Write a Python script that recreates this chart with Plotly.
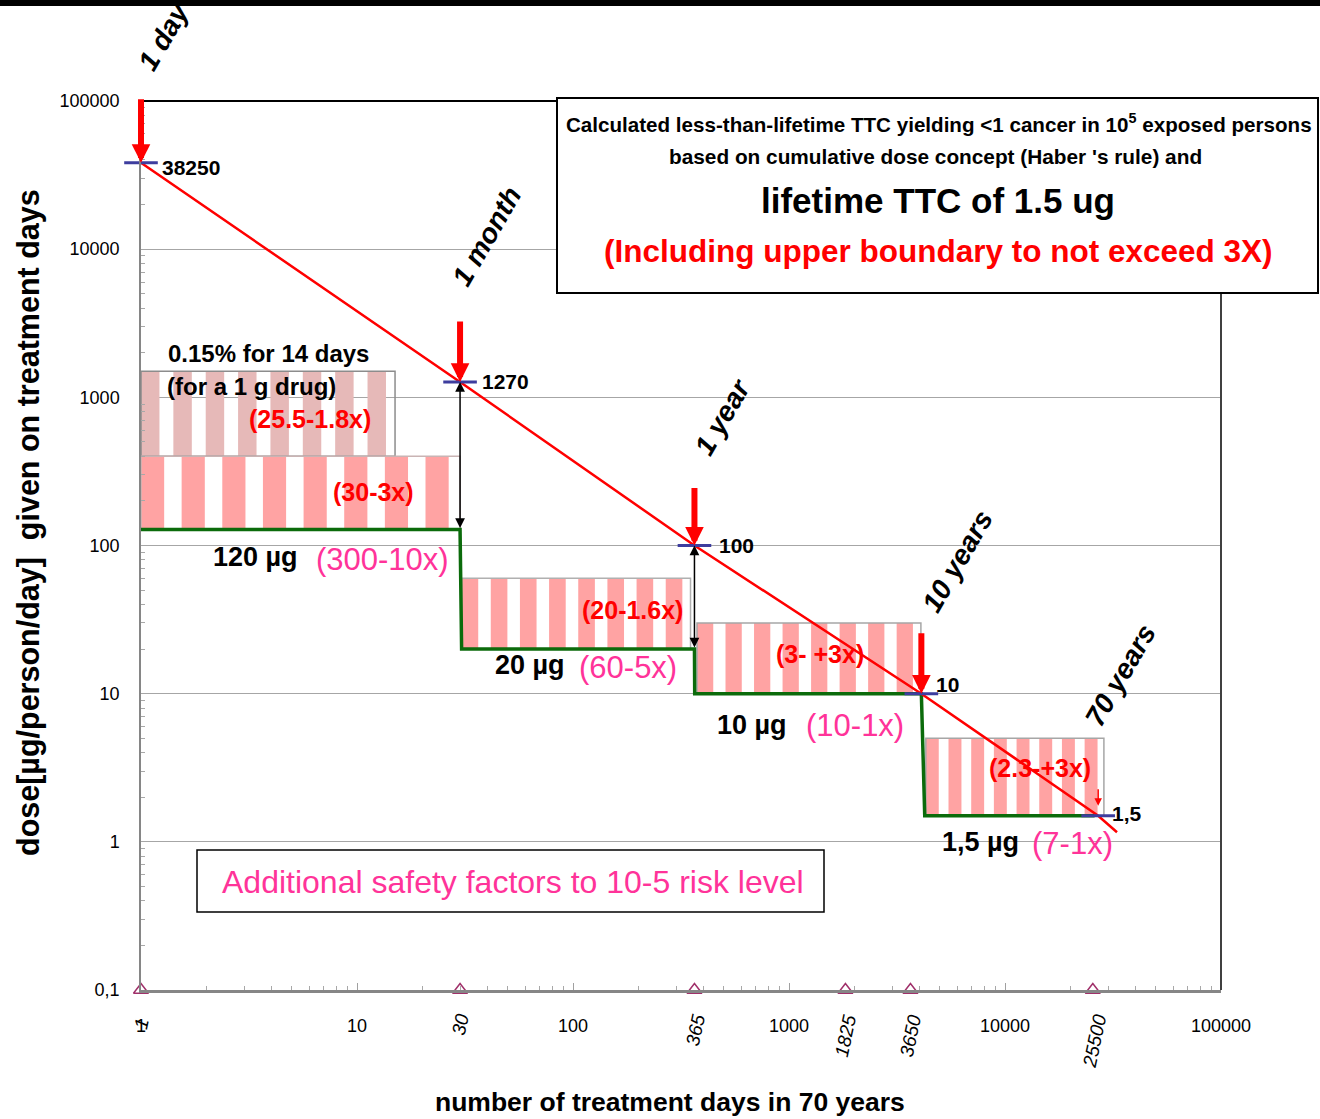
import math
import plotly.graph_objects as go

# ---------------- data ----------------
red_days = [1, 30, 365, 4100, 27000, 33000]
red_dose = [38250, 1270, 100, 10, 1.5, 1.16]

point_days = [1, 30, 365, 4100, 27000]
point_dose = [38250, 1270, 100, 10, 1.5]
point_labels = ["38250", "1270", "100", "10", "1,5"]
milestone_labels = ["1 day", "1 month", "1 year", "10 years", "70 years"]

step_days = [1, 30, 30.5, 365, 366, 4100, 4250, 26000]
step_dose = [128, 128, 20, 20, 10, 10, 1.5, 1.5]

box_day_from = [1, 1, 30.5, 375, 4300]
box_day_to = [15, 30, 350, 4080, 28700]
box_dose_low = [400, 128, 20, 10, 1.5]
box_dose_high = [1500, 400, 60, 30, 5]
box_factor_labels = ["(25.5-1.8x)", "(30-3x)", "(20-1.6x)", "(3- +3x)", "(2.3-+3x)"]

level_labels = ["120 µg", "20 µg", "10 µg", "1,5 µg"]
level_factor_labels = ["(300-10x)", "(60-5x)", "(10-1x)", "(7-1x)"]

axis_mark_days = [1, 30, 365, 1825, 3650, 25500]
axis_mark_labels = ["1", "30", "365", "1825", "3650", "25500"]

x_tickvals = [1, 10, 100, 1000, 10000, 100000]
x_ticktext = ["1", "10", "100", "1000", "10000", "100000"]
y_tickvals = [0.1, 1, 10, 100, 1000, 10000, 100000]
y_ticktext = ["0,1", "1", "10", "100", "1000", "10000", "100000"]

pair_days = [30, 365]
pair_top = [1270, 100]
pair_bottom = [128, 20]

# ---------------- layout helpers ----------------
W, H = 1320, 1119
L, R, T, B = 141, 99, 101, 129
PW, PH = W - L - R, H - T - B
SANS = "Liberation Sans, Arial, sans-serif"
RED = "#ff0000"
MAG = "#ff3399"


def fx(p):
    return (p - L) / PW


def fy(p):
    return (H - B - p) / PH


def ann(text, xp, yp, size, color="black", bold=True, italic=False, angle=0,
        xanchor="center"):
    return dict(text=text, xref="paper", yref="paper", x=fx(xp), y=fy(yp),
                xanchor=xanchor, yanchor="middle", showarrow=False,
                textangle=angle,
                font=dict(family=SANS, size=size, color=color,
                          weight="bold" if bold else "normal",
                          style="italic" if italic else "normal"))


fig = go.Figure()

# striped boxes
stripe_colors = ["#e6b9b8", "#ffa3a3", "#ffa3a3", "#ffa3a3", "#ffa3a3"]
outline_colors = ["#8c8c8c", "#c9b4b4", "#b0b0b0", "#a6a6a6", "#a6a6a6"]
for i in range(len(box_day_from)):
    lx0, lx1 = math.log10(box_day_from[i]), math.log10(box_day_to[i])
    period = (lx1 - lx0) / 7.85
    xs, ys = [], []
    for k in range(8):
        s0 = lx0 + k * period
        s1 = min(s0 + 0.57 * period, lx1)
        a, b = 10 ** s0, 10 ** s1
        lo, hi = box_dose_low[i], box_dose_high[i]
        xs += [a, b, b, a, a, None]
        ys += [lo, lo, hi, hi, lo, None]
    fig.add_trace(go.Scatter(x=xs, y=ys, mode="lines", fill="toself",
                             fillcolor=stripe_colors[i], line=dict(width=0),
                             hoverinfo="skip"))
    a, b = box_day_from[i], box_day_to[i]
    lo, hi = box_dose_low[i], box_dose_high[i]
    fig.add_trace(go.Scatter(x=[a, b, b, a, a], y=[lo, lo, hi, hi, lo],
                             mode="lines",
                             line=dict(color=outline_colors[i], width=1.5),
                             hoverinfo="skip"))

# green step line
fig.add_trace(go.Scatter(x=step_days, y=step_dose, mode="lines",
                         line=dict(color="#0b6b0b", width=3.5)))
# red line
fig.add_trace(go.Scatter(x=red_days, y=red_dose, mode="lines",
                         line=dict(color=RED, width=2.5)))
# blue dash markers
fig.add_trace(go.Scatter(x=point_days, y=point_dose, mode="markers",
                         cliponaxis=False,
                         marker=dict(symbol="line-ew", size=24,
                                     line=dict(width=3, color="#3d3d9e"))))
# triangles on the x-axis
fig.add_trace(go.Scatter(x=axis_mark_days, y=[0.1] * len(axis_mark_days),
                         mode="markers", cliponaxis=False,
                         marker=dict(symbol="triangle-up-open", size=13,
                                     color="#a0306a",
                                     line=dict(width=1.5, color="#a0306a"))))

annotations = []

# red arrows (pixel lengths are styling)
red_arrow_len = [65, 62, 59, 62]
for i in range(4):
    annotations.append(dict(x=math.log10(point_days[i]), y=math.log10(point_dose[i]),
                            xref="x", yref="y", ax=0, ay=-red_arrow_len[i],
                            text="", showarrow=True, arrowhead=2, arrowsize=0.62,
                            arrowwidth=6, arrowcolor=RED, standoff=0))
annotations.append(dict(x=math.log10(point_days[4]), y=math.log10(point_dose[4]),
                        xref="x", yref="y", ax=0, ay=-28, text="", showarrow=True,
                        arrowhead=2, arrowsize=1.0, arrowwidth=1.5,
                        arrowcolor=RED, standoff=10))

# black double arrows
for i in range(2):
    annotations.append(dict(x=math.log10(pair_days[i]), y=math.log10(pair_top[i]),
                            xref="x", yref="y", axref="x", ayref="y",
                            ax=math.log10(pair_days[i]), ay=math.log10(pair_bottom[i]),
                            text="", showarrow=True, arrowside="end+start",
                            arrowhead=2, startarrowhead=2, arrowsize=1.3,
                            startarrowsize=1.3, arrowwidth=1.5,
                            arrowcolor="black", standoff=0, startstandoff=0))

# milestone labels
milestone_pos = [(164, 37), (487, 237), (722, 417), (957, 561), (1120, 675)]
for t, (xp, yp) in zip(milestone_labels, milestone_pos):
    annotations.append(ann(t, xp, yp, 28, italic=True, angle=-60))

# point value labels
point_label_pos = [(160, 167), (480, 381), (717, 545), (934, 684), (1110, 813)]
for t, (xp, yp) in zip(point_labels, point_label_pos):
    annotations.append(ann(t, xp, yp, 21, xanchor="left"))

# box texts
annotations.append(ann("0.15% for 14 days", 166, 353, 24, xanchor="left"))
annotations.append(ann("(for a 1 g drug)", 165, 386, 24, xanchor="left"))
box_label_pos = [(310, 419), (373, 492), (632, 610), (820, 654), (1040, 768)]
for t, (xp, yp) in zip(box_factor_labels, box_label_pos):
    annotations.append(ann(t, xp, yp, 25, color=RED))

level_pos = [(255, 557), (530, 665), (752, 725), (980, 842)]
for t, (xp, yp) in zip(level_labels, level_pos):
    annotations.append(ann(t, xp, yp, 27))
level_factor_pos = [(382, 559), (628, 667), (855, 725), (1072, 843)]
for t, (xp, yp) in zip(level_factor_labels, level_factor_pos):
    annotations.append(ann(t, xp, yp, 31, color=MAG, bold=False))

# title box text
annotations.append(ann("Calculated less-than-lifetime TTC yielding &lt;1 cancer in 10<sup>5</sup> exposed persons",
                       939, 123, 20.6))
annotations.append(ann("based on cumulative dose concept (Haber 's rule) and", 935, 156, 20.8))
annotations.append(ann("lifetime TTC of 1.5 ug", 938, 201, 35))
annotations.append(ann("(Including upper boundary to not exceed 3X)", 938, 251, 31.5, color=RED))

# bottom box text
annotations.append(ann("Additional safety factors to 10-5 risk level", 513, 882, 32, color=MAG, bold=False))

# axis titles
annotations.append(ann("dose[µg/person/day]  given on treatment days", 28, 523, 30.5, angle=-90))
annotations.append(ann("number of treatment days in 70 years", 670, 1102, 26.5))

# rotated day labels under x-axis
mark_label_pos = [(141, 1024), (460, 1024), (695, 1030), (845, 1036), (910, 1036), (1094, 1041)]
for t, (xp, yp) in zip(axis_mark_labels, mark_label_pos):
    annotations.append(ann(t, xp, yp, 19, bold=False, italic=True, angle=-78))

shapes = [
    # frame top & right
    dict(type="line", xref="x domain", yref="y domain", x0=0, x1=1, y0=1, y1=1,
         line=dict(color="black", width=2), layer="above"),
    dict(type="line", xref="x domain", yref="y domain", x0=1, x1=1, y0=0, y1=1,
         line=dict(color="#404040", width=2), layer="above"),
    # title box
    dict(type="rect", xref="paper", yref="paper", x0=fx(557), x1=fx(1318),
         y0=fy(293), y1=fy(98), fillcolor="white",
         line=dict(color="black", width=2), layer="above"),
    # bottom box
    dict(type="rect", xref="paper", yref="paper", x0=fx(197), x1=fx(824),
         y0=fy(912), y1=fy(850), fillcolor="white",
         line=dict(color="black", width=1.5), layer="above"),
    # page top bar
    dict(type="rect", xref="paper", yref="paper", x0=fx(0), x1=fx(W),
         y0=fy(6), y1=fy(-2), fillcolor="black", line=dict(width=0),
         layer="above"),
]

minor_x = [k * 10 ** e for e in range(0, 5) for k in range(2, 10)]
minor_y = [k * 10 ** e for e in range(-1, 5) for k in range(2, 10)]

fig.update_layout(
    width=W, height=H,
    margin=dict(l=L, r=R, t=T, b=B),
    paper_bgcolor="white", plot_bgcolor="white",
    showlegend=False,
    annotations=annotations,
    shapes=shapes,
    xaxis=dict(type="log", range=[0, 5], showgrid=False, zeroline=False,
               showline=True, linecolor="#868686", linewidth=3,
               tickmode="array", tickvals=x_tickvals, ticktext=x_ticktext,
               ticks="inside", ticklen=7, tickcolor="#a0a0a0", tickwidth=1,
               ticklabelstandoff=17,
               tickfont=dict(family=SANS, size=18, color="black"),
               minor=dict(tickmode="array", tickvals=minor_x, ticks="inside",
                          ticklen=4, tickcolor="#a8a8a8", showgrid=False)),
    yaxis=dict(type="log", range=[-1, 5], showgrid=True, gridcolor="#a6a6a6",
               gridwidth=1, zeroline=False, showline=True,
               linecolor="#868686", linewidth=1.5,
               tickmode="array", tickvals=y_tickvals, ticktext=y_ticktext,
               ticks="", ticklabelstandoff=16,
               tickfont=dict(family=SANS, size=18, color="black"),
               minor=dict(tickmode="array", tickvals=minor_y, ticks="inside",
                          ticklen=4, tickcolor="#a8a8a8", showgrid=False)),
)

fig.write_html("out.html",
               config={"displayModeBar": False},
               post_script="document.body.style.margin='0';document.body.style.padding='0';")
